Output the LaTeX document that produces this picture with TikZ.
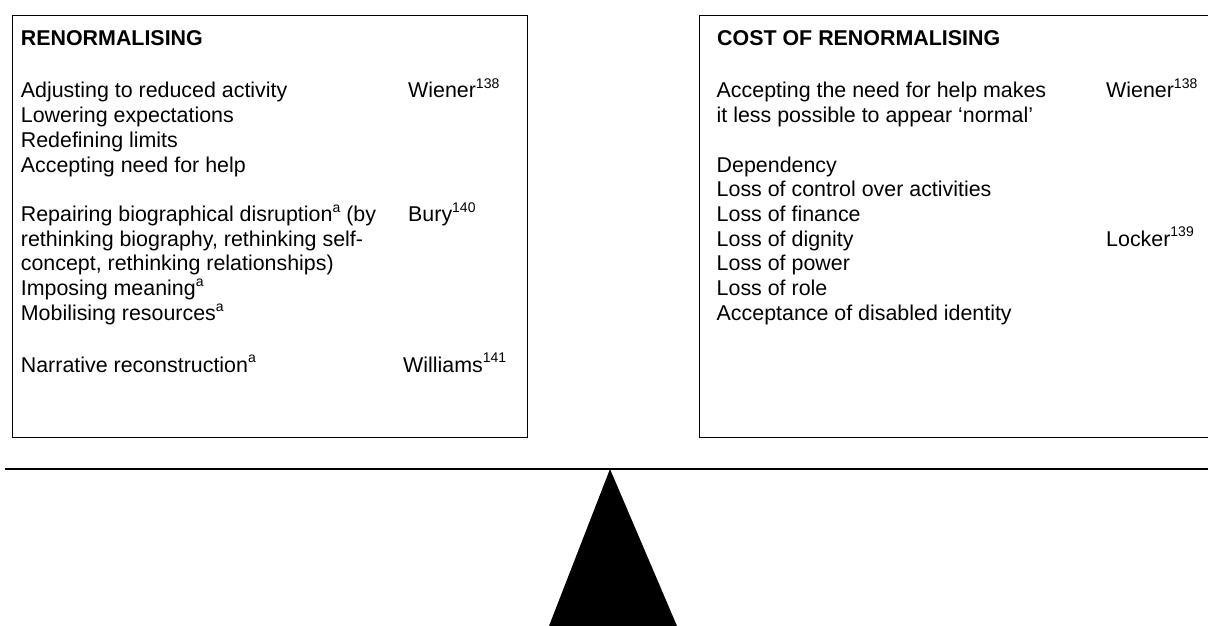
\documentclass[tikz,border=0pt]{standalone}
\usepackage{fontspec}
\setmainfont{Liberation Sans}
\newcommand{\sups}[1]{\raisebox{9.3pt}{\fontsize{14}{14}\selectfont #1}}
\begin{document}
\begin{tikzpicture}[x=1pt,y=-1pt,
  txt/.style={anchor=base west, inner sep=0pt, font=\fontsize{21.4}{24.7}\selectfont},
  head/.style={txt, font=\fontsize{21.4}{24.7}\selectfont\bfseries},
  panel/.style={draw=black, line width=1.3pt, inner sep=0pt, anchor=north west},
  beam/.style={draw=black, line width=1.3pt}]
\useasboundingbox (0,0) rectangle (1208,626);
\clip (0,0) rectangle (1208,626);
% boxes
\node[panel, minimum width=515pt, minimum height=422pt] (lbox) at (12,15) {};
\node[panel, minimum width=540pt, minimum height=422pt] (rbox) at (699,15) {};
% beam and fulcrum
\coordinate (hl) at (5,469);
\coordinate (hr) at (1215,469);
\draw[beam] (hl) -- (hr);
\coordinate (apex) at (610,469);
\coordinate (bl) at (549,626);
\coordinate (br) at (677,626);
\fill[black] (apex) -- (bl) -- (br) -- cycle;
% left box text
\node[head] (lh) at (20.7,46) {RENORMALISING};
\node[txt] (l1) at (20.7,98) {Adjusting to reduced activity};
\node[txt] (l2) at (20.7,122.7) {Lowering expectations};
\node[txt] (l3) at (20.7,147.4) {Redefining limits};
\node[txt] (l4) at (20.7,172.1) {Accepting need for help};
\node[txt] (l5) at (20.7,221.5) {Repairing biographical disruption\sups{a} (by};
\node[txt] (l6) at (20.7,246.2) {rethinking biography, rethinking self-};
\node[txt] (l7) at (20.7,270.9) {concept, rethinking relationships)};
\node[txt] (l8) at (20.7,295.6) {Imposing meaning\sups{a}};
\node[txt] (l9) at (20.7,320.3) {Mobilising resources\sups{a}};
\node[txt] (l10) at (20.7,372) {Narrative reconstruction\sups{a}};
\node[txt] (lr1) at (408,98) {Wiener\sups{138}};
\node[txt] (lr2) at (408,221.5) {Bury\sups{140}};
\node[txt] (lr3) at (403,372) {Williams\sups{141}};
% right box text
\node[head] (rh) at (717,46) {COST OF RENORMALISING};
\node[txt] (r1) at (716.5,98) {Accepting the need for help makes};
\node[txt] (r2) at (716.5,122.7) {it less possible to appear ‘normal’};
\node[txt] (r3) at (716.5,172.1) {Dependency};
\node[txt] (r4) at (716.5,196.8) {Loss of control over activities};
\node[txt] (r5) at (716.5,221.5) {Loss of finance};
\node[txt] (r6) at (716.5,246.2) {Loss of dignity};
\node[txt] (r7) at (716.5,270.9) {Loss of power};
\node[txt] (r8) at (716.5,295.6) {Loss of role};
\node[txt] (r9) at (716.5,320.3) {Acceptance of disabled identity};
\node[txt] (rr1) at (1106,98) {Wiener\sups{138}};
\node[txt] (rr2) at (1106,246.2) {Locker\sups{139}};
\end{tikzpicture}
\end{document}
